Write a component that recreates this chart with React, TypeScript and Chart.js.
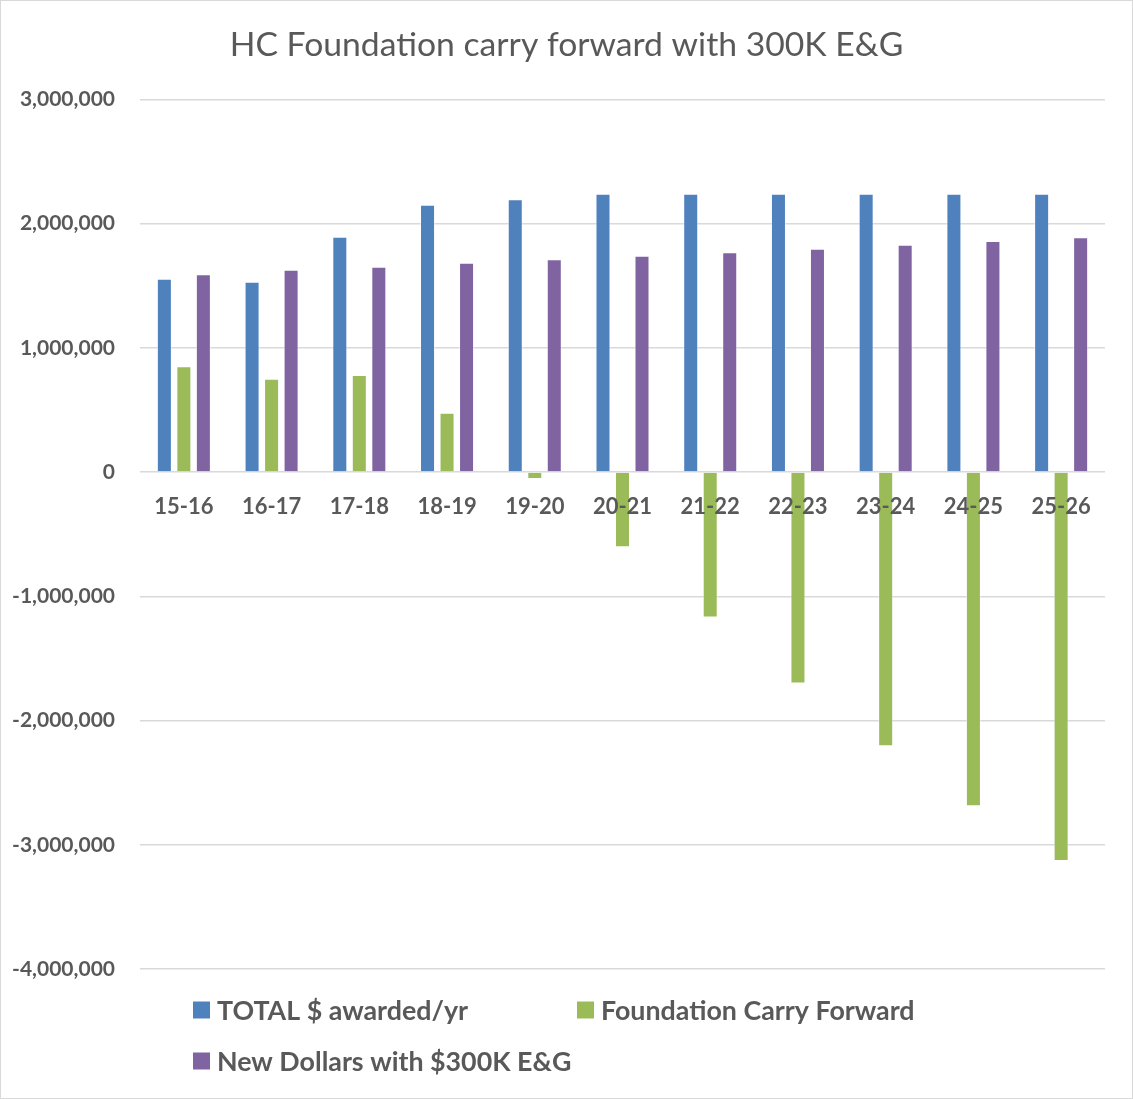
import React, { useEffect, useRef } from "react";
import { Chart, registerables } from "chart.js";

Chart.register(...registerables);

const categories = ["15-16", "16-17", "17-18", "18-19", "19-20", "20-21", "21-22", "22-23", "23-24", "24-25", "25-26"];
const totalAwarded = [1557000, 1533000, 1895000, 2153000, 2196000, 2241000, 2241000, 2241000, 2241000, 2241000, 2241000];
const carryForward = [853000, 752000, 781000, 478000, -56000, -604000, -1170000, -1702000, -2206000, -2689000, -3130000];
const newDollars = [1592000, 1630000, 1654000, 1686000, 1713000, 1742000, 1769000, 1799000, 1831000, 1860000, 1890000];
const seriesLabels = ["TOTAL $ awarded/yr", "Foundation Carry Forward", "New Dollars with $300K E&G"];
const seriesColors = ["#4F81BD", "#9BBB59", "#8064A2"];
const titleText = "HC Foundation carry forward with 300K E&G";
const yMin = -4000000;
const yMax = 3000000;
const yStep = 1000000;

const TEXT = "#595959";
const FONT = "Lato, 'Open Sans', sans-serif";

const legendPlugin = {
  id: "excelLegend",
  afterDraw(chart: any) {
    const ctx = chart.ctx;
    const spots = [
      { x: 192, y: 1009 },
      { x: 576, y: 1009 },
      { x: 192, y: 1060 },
    ];
    ctx.save();
    ctx.font = `bold 26.8px ${FONT}`;
    ctx.textBaseline = "middle";
    ctx.textAlign = "left";
    chart.data.datasets.forEach((ds: any, i: number) => {
      const p = spots[i];
      ctx.fillStyle = ds.backgroundColor;
      ctx.fillRect(p.x, p.y - 8.5, 17, 17);
      ctx.fillStyle = TEXT;
      ctx.fillText(ds.label, p.x + 24, p.y + 1);
    });
    ctx.restore();
  },
};

export default function App() {
  const ref = useRef<HTMLCanvasElement | null>(null);

  useEffect(() => {
    document.body.style.margin = "0";
    const canvas = ref.current;
    if (!canvas) return;
    const values = [totalAwarded, carryForward, newDollars];
    const chart = new Chart(canvas, {
      type: "bar",
      data: {
        labels: categories,
        datasets: values.map((v, i) => ({
          label: seriesLabels[i],
          data: v,
          backgroundColor: seriesColors[i],
          borderColor: "rgba(255,255,255,0.45)",
          borderWidth: 1,
          categoryPercentage: 0.667,
          barPercentage: 0.77,
        })),
      },
      options: {
        responsive: false,
        animation: false,
        layout: { padding: { top: 0, right: 0, bottom: 129, left: 0 } },
        plugins: {
          legend: { display: false },
          tooltip: { enabled: false },
          title: {
            display: true,
            text: titleText,
            color: TEXT,
            font: { family: FONT, size: 33.7, weight: "normal" },
            padding: { top: 24, bottom: 34 },
          },
        },
        scales: {
          x: {
            type: "category",
            position: { y: 0 } as any,
            grid: { display: false, drawTicks: false },
            border: { display: false },
            ticks: {
              color: TEXT,
              font: { family: FONT, size: 22, weight: "bold" },
              padding: 22,
              maxRotation: 0,
              autoSkip: false,
              z: 1,
            },
          },
          y: {
            min: yMin,
            max: yMax,
            grid: { color: "#d9d9d9", lineWidth: 1.5, drawTicks: false },
            border: { display: false },
            ticks: {
              stepSize: yStep,
              color: TEXT,
              font: { family: FONT, size: 21, weight: "bold" },
              padding: 25,
              callback: (v: any) => Number(v).toLocaleString("en-US"),
            },
            afterFit: (scale: any) => {
              scale.width = 139;
            },
          },
          yRight: {
            type: "linear",
            position: "right",
            min: yMin,
            max: yMax,
            grid: { display: false, drawTicks: false },
            border: { display: false },
            ticks: { display: false },
            afterFit: (scale: any) => {
              scale.width = 27;
            },
          },
        },
      },
      plugins: [legendPlugin],
    });
    return () => chart.destroy();
  }, []);

  return (
    <div
      style={{
        position: "fixed",
        left: 0,
        top: 0,
        width: 1133,
        height: 1099,
        boxSizing: "border-box",
        border: "1px solid #d9d9d9",
        background: "#fff",
      }}
    >
      <canvas ref={ref} width={1131} height={1097} style={{ display: "block" }} />
    </div>
  );
}
